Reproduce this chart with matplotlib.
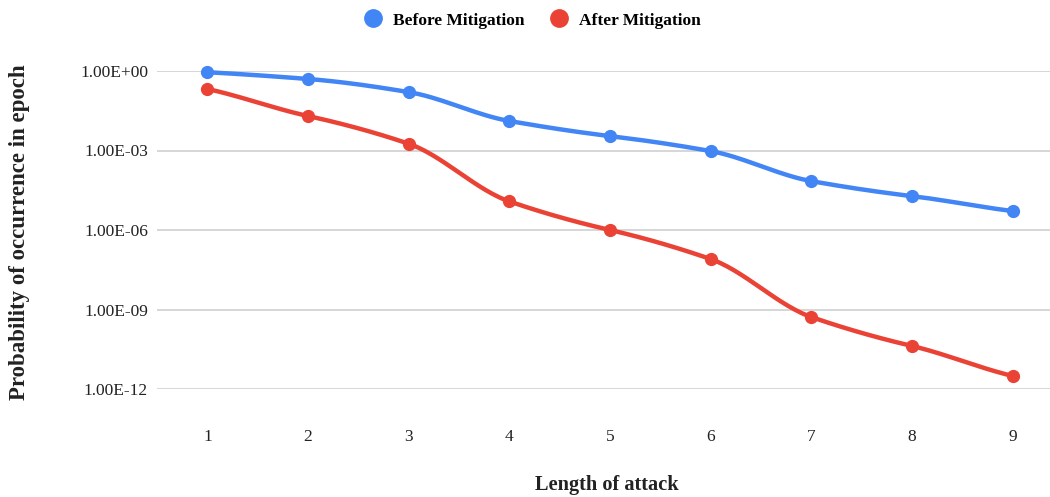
import numpy as np
import matplotlib
matplotlib.use("Agg")
import matplotlib.pyplot as plt
from matplotlib.lines import Line2D

lengths = [1, 2, 3, 4, 5, 6, 7, 8, 9]
before = [0.9, 0.5, 0.16, 0.013, 0.0035, 0.00095, 7e-5, 1.9e-5, 5.2e-6]
after = [0.21, 0.02, 0.0018, 1.2e-5, 1e-6, 8e-8, 5.2e-10, 4.2e-11, 3.1e-12]
ytick_vals = [1e0, 1e-3, 1e-6, 1e-9, 1e-12]
ytick_labels = ["1.00E+00", "1.00E-03", "1.00E-06", "1.00E-09", "1.00E-12"]

BLUE = "#4285F4"
RED = "#EA4335"

plt.rcParams['font.family'] = ['Liberation Serif', 'DejaVu Serif']


def smooth(xs, ys, n=30):
    # Hermite smoothing in log space for rendering only
    x = np.asarray(xs, float)
    y = np.log10(np.asarray(ys, float))
    m = np.zeros_like(y)
    m[1:-1] = (y[2:] - y[:-2]) / (x[2:] - x[:-2])
    m[0] = y[1] - y[0]
    m[-1] = y[-1] - y[-2]
    m *= 0.8
    xo, yo = [], []
    for i in range(len(x) - 1):
        h = x[i + 1] - x[i]
        t = np.linspace(0, 1, n, endpoint=(i == len(x) - 2))
        h00 = 2 * t**3 - 3 * t**2 + 1
        h10 = t**3 - 2 * t**2 + t
        h01 = -2 * t**3 + 3 * t**2
        h11 = t**3 - t**2
        xo.extend(x[i] + t * h)
        yo.extend(h00 * y[i] + h10 * h * m[i] + h01 * y[i + 1] + h11 * h * m[i + 1])
    return np.array(xo), 10 ** np.array(yo)


fig = plt.figure(figsize=(10.5, 4.97), dpi=100)
ax = fig.add_axes([157 / 1050, 1 - 389 / 497, (1063 - 157) / 1050, (389 - 71) / 497])
ax.set_yscale('log')
ax.set_xlim(0.5, 9.5)
ax.set_ylim(1e-12, 1e0)

for vals, col in [(before, BLUE), (after, RED)]:
    sx, sy = smooth(lengths, vals)
    ax.plot(sx, sy, color=col, lw=3.2, solid_capstyle='round', clip_on=False, zorder=3)
    ax.plot(lengths, vals, 'o', color=col, ms=8.5, clip_on=False, zorder=4)

ax.set_yticks(ytick_vals)
ax.set_yticklabels(ytick_labels)
ax.yaxis.set_minor_locator(matplotlib.ticker.NullLocator())
ax.set_xticks(lengths)
ax.set_xticklabels([str(v) for v in lengths])
ax.tick_params(axis='both', length=0, labelsize=12.5, colors='#222222')
ax.tick_params(axis='y', pad=6.5)
ax.tick_params(axis='x', pad=29)
ax.grid(axis='y', color='#d0d0d0', lw=1.2)
ax.set_axisbelow(True)
for s in ax.spines.values():
    s.set_visible(False)

fig.text(20 / 1050, 1 - 232 / 497, "Probability of occurrence in epoch", rotation=90,
         ha='center', va='center', fontsize=16.5, fontweight='bold', color='#222222')
fig.text(607 / 1050, 1 - 485 / 497, "Length of attack", ha='center', va='center',
         fontsize=14.7, fontweight='bold', color='#222222')

handles = [Line2D([], [], ls='none', marker='o', color=BLUE, ms=12.5),
           Line2D([], [], ls='none', marker='o', color=RED, ms=12.5)]
fig.legend(handles, ["Before Mitigation", "After Mitigation"], loc='center',
           bbox_to_anchor=(532 / 1050, 1 - 20.5 / 497), ncol=2, frameon=False,
           prop={'weight': 'bold', 'size': 12.5}, handletextpad=0.55, columnspacing=1.4,
           handlelength=1.2)

fig.savefig("out.png", dpi=100, facecolor='white')
